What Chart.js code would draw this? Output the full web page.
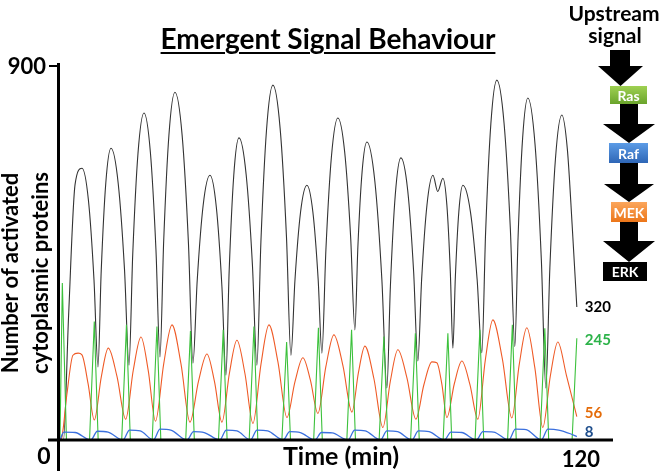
<!DOCTYPE html>
<html><head><meta charset="utf-8">
<script src="https://cdn.jsdelivr.net/npm/chart.js@4"></script>
<style>
html,body{margin:0;padding:0;background:#fff;}
#wrap{position:relative;width:665px;height:474px;overflow:hidden;font-family:Lato,'Open Sans',sans-serif;font-weight:700;}
canvas{position:absolute;left:0;top:0;}
.t{position:absolute;white-space:nowrap;color:#000;font-weight:700;}
svg{position:absolute;left:0;top:0;}
</style></head><body>
<div id="wrap">
<canvas id="c" width="665" height="474"></canvas>
<div class="t" style="left:0;width:656px;top:22px;text-align:center;font-size:28px;line-height:32px;text-decoration:underline;text-decoration-thickness:2px;text-underline-offset:3px;">Emergent Signal Behaviour</div>
<div class="t" style="left:-125px;top:243px;width:300px;height:60px;text-align:center;font-size:22px;line-height:30px;transform:rotate(-90deg);">Number of activated<br>cytoplasmic proteins</div>
<div class="t" style="left:241px;width:200px;top:440px;text-align:center;font-size:25px;line-height:30px;">Time (min)</div>
<div class="t" style="left:559px;width:110px;top:1px;text-align:center;font-size:21px;line-height:24px;">Upstream</div>
<div class="t" style="left:560px;width:110px;top:23px;text-align:center;font-size:21px;line-height:24px;">signal</div>
<svg width="665" height="474" viewBox="0 0 665 474">
<defs>
<linearGradient id="gRas" x1="0" y1="0" x2="0" y2="1"><stop offset="0" stop-color="#9fd152"/><stop offset="1" stop-color="#6aa42c"/></linearGradient>
<linearGradient id="gRaf" x1="0" y1="0" x2="0" y2="1"><stop offset="0" stop-color="#5c9ce6"/><stop offset="1" stop-color="#2e66b6"/></linearGradient>
<linearGradient id="gMek" x1="0" y1="0" x2="0" y2="1"><stop offset="0" stop-color="#fba65c"/><stop offset="1" stop-color="#ec7619"/></linearGradient>
</defs>
<polygon points="610,50 630,50 630,66 643,66 620.5,86 598,66 610,66" fill="#000"/>
<polygon points="620,103 638,103 638,124 655,124 629,143 603,124 620,124" fill="#000"/>
<polygon points="620,163 638,163 638,184 654,184 629,202 604,184 620,184" fill="#000"/>
<polygon points="620,222 638,222 638,241 655,241 629,262 603,241 620,241" fill="#000"/>
<rect x="610" y="86" width="37" height="18" fill="url(#gRas)"/>
<rect x="609" y="143" width="39" height="20" fill="url(#gRaf)"/>
<rect x="611" y="202" width="36" height="20" fill="url(#gMek)"/>
<rect x="603" y="262" width="44" height="19" fill="#000"/>
<g font-family="Lato, 'Open Sans', sans-serif" font-weight="700" font-size="14" fill="#fff" text-anchor="middle" dominant-baseline="central">
<text x="628.5" y="95">Ras</text>
<text x="628.5" y="153">Raf</text>
<text x="629" y="212">MEK</text>
<text x="625" y="271.5">ERK</text>
</g>
</svg>
</div>
<script>
// ---- data (time in min, number of proteins) ----
const xTicks = [0, 120];
const yTicks = [0, 900];

const erkT = [0,0.8,2.0,3.5,5.11,6.59,7.89,8.82,9.57,10.63,11.84,13.51,14.98,16.02,16.89,18.11,19.50,20.98,22.28,23.21,24.08,25.30,26.69,28.36,29.83,30.87,31.86,33.24,34.82,36.30,37.60,38.53,39.28,40.34,41.55,43.22,44.68,45.72,46.65,47.95,49.44,51.11,52.58,53.62,54.55,55.85,57.33,58.72,59.94,60.81,61.74,63.04,64.52,66.10,67.48,68.47,69.16,70.14,71.25,73.11,74.74,75.90,76.71,77.85,79.15,80.73,82.11,83.09,83.97,85.20,86.6,87.7,88.9,89.83,90.64,91.22,91.80,92.61,93.54,95.30,96.85,97.95,98.82,100.04,101.43,103.10,104.57,105.61,106.36,107.42,108.63,110.30,111.77,112.81,113.74,115.04,116.52,117.8,118.9,120];
const erkV = [0,0,300,615,654,578,386,176,407,618,702,618,410,180,447,690,787,693,458,200,480,735,837,733,472,185,384,565,637,560,368,156,407,636,727,639,421,180,477,746,854,750,490,204,384,548,613,548,387,209,458,684,775,693,489,265,464,645,717,622,385,125,369,590,679,601,405,190,387,565,637,598,630,565,401,221,393,550,613,549,387,210,499,761,866,763,507,225,488,727,823,711,432,125,414,677,782,700,520,320];

const mekT = [0,0.4,1.6,3.0,4.2,5.1,6.53,7.96,9.59,11.21,13.23,15.25,17.03,18.80,20.49,22.17,24.09,26.00,28.09,30.17,32.15,34.12,35.86,37.60,39.34,41.08,42.94,44.80,46.66,48.51,50.60,52.69,54.55,56.40,58.14,59.88,61.74,63.60,65.69,67.78,69.29,70.79,72.88,74.97,76.71,78.45,80.54,82.63,84.49,86.35,87.5,88.67,89.83,91.57,93.31,95.17,97.02,98.76,100.50,102.71,104.91,106.65,108.39,110.25,112.10,113.85,115.59,117.6,120];
const mekV = [0,5,110,204,209,205,135,48,152,221,153,50,169,248,167,45,184,277,183,43,141,207,141,43,161,240,160,40,182,277,188,54,140,198,144,64,177,253,179,67,162,226,148,30,142,217,150,50,133,188,186,134,54,136,190,134,50,193,289,195,53,183,270,174,30,154,236,155,56];

const rasT = [0,0.54,1.5,6.86,7.96,8.86,14.33,15.43,16.33,21.41,22.51,23.41,29.19,30.29,31.19,36.80,37.90,38.80,43.93,45.03,45.93,51.52,52.62,53.52,58.90,60.00,60.90,66.60,67.70,68.60,74.10,75.20,76.10,81.41,82.51,83.41,88.96,90.06,90.96,96.38,97.48,98.38,103.93,105.03,105.93,111.47,112.57,113.47,118.9,120];
const rasV = [0,378,0,0,285,0,0,277,0,0,273,0,0,262,0,0,265,0,0,273,0,0,236,0,0,270,0,0,265,0,0,249,0,0,257,0,0,257,0,0,265,0,0,277,0,0,269,0,0,245];

const rafT = [0,0.9,3.5,7.16,8.66,11.16,14.63,16.13,18.63,21.71,23.21,25.71,29.49,30.99,33.49,37.10,38.60,41.10,44.23,45.73,48.23,51.82,53.32,55.82,59.20,60.70,63.20,66.90,68.40,70.90,74.40,75.90,78.40,81.71,83.21,85.71,89.26,90.76,93.26,96.68,98.18,100.68,104.23,105.73,108.23,111.77,113.27,115.77,118.5,120];
const rafV = [0,19,18,0,21,19,0,24,22,0,26,24,0,20,18,0,24,22,0,24,22,0,20,18,0,18,17,0,24,22,0,22,20,0,22,20,0,19,18,0,20,19,0,26,25,0,26,24,15,8];

const seriesColors = ['#333333','#ef5a26','#3b70de','#3cc13c'];
const labelColors = ['#000000','#e46c0a','#1f4e8c','#2db34a'];

function pts(t, v){ return t.map((x,i)=>({x:x, y:v[i]})); }

const endLabelOffsets = {ERK:0, Ras:2, MEK:-4, Raf:-5};

const axesPlugin = {
  id:'axesPlugin',
  afterDatasetsDraw(chart){
    const {ctx, scales:{x, y}} = chart;
    const x0 = x.getPixelForValue(xTicks[0]);
    const y0 = y.getPixelForValue(yTicks[0]);
    const yTop = y.getPixelForValue(yTicks[1]);
    ctx.save();
    ctx.strokeStyle = '#000';
    ctx.lineWidth = 3;
    ctx.beginPath(); ctx.moveTo(x0-1.5, yTop-3); ctx.lineTo(x0-1.5, 471); ctx.stroke();
    ctx.beginPath(); ctx.moveTo(48, y0); ctx.lineTo(x.right, y0); ctx.stroke();
    ctx.lineWidth = 2;
    ctx.beginPath(); ctx.moveTo(49, yTop); ctx.lineTo(x0-1.5, yTop); ctx.stroke();
    ctx.fillStyle = '#000';
    ctx.font = 'bold 22px Lato, "Open Sans", sans-serif';
    ctx.textBaseline = 'middle';
    ctx.textAlign = 'right';
    ctx.fillText(String(yTicks[1]), 46, yTop+1);
    ctx.textAlign = 'center';
    ctx.font = 'bold 23px Lato, "Open Sans", sans-serif';
    ctx.fillText(String(xTicks[0]), 44, 457);
    ctx.font = 'bold 22px Lato, "Open Sans", sans-serif';
    ctx.fillText(String(xTicks[1]), x.getPixelForValue(xTicks[1])+4, 460);
    // end values
    ctx.font = 'bold 15px Lato, "Open Sans", sans-serif';
    ctx.textAlign = 'left';
    chart.data.datasets.forEach((ds, i) => {
      const last = ds.data[ds.data.length-1];
      ctx.fillStyle = ds.labelColor;
      ctx.fillText(String(last.y), x.getPixelForValue(last.x)+8, y.getPixelForValue(last.y) + endLabelOffsets[ds.label]);
    });
    ctx.restore();
  }
};

new Chart(document.getElementById('c'), {
  type: 'line',
  data: {
    datasets: [
      {label:'ERK', data: pts(erkT, erkV), borderColor: seriesColors[0], labelColor: labelColors[0], borderWidth: 1.1, cubicInterpolationMode:'monotone', order: 3},
      {label:'MEK', data: pts(mekT, mekV), borderColor: seriesColors[1], labelColor: labelColors[1], borderWidth: 1.1, cubicInterpolationMode:'monotone', order: 2},
      {label:'Raf', data: pts(rafT, rafV), borderColor: seriesColors[2], labelColor: labelColors[2], borderWidth: 1.3, cubicInterpolationMode:'monotone', order: 0},
      {label:'Ras', data: pts(rasT, rasV), borderColor: seriesColors[3], labelColor: labelColors[3], borderWidth: 1.1, tension: 0, order: 1}
    ]
  },
  options: {
    responsive: false,
    animation: false,
    elements: { point: { radius: 0 } },
    layout: { padding: { left: 60, right: 52, top: 66, bottom: 34 } },
    scales: {
      x: { type: 'linear', min: 0, max: 128.4, display: false },
      y: { type: 'linear', min: 0, max: 900, display: false }
    },
    plugins: { legend: { display: false }, tooltip: { enabled: false }, title: { display: false } }
  },
  plugins: [axesPlugin]
});
</script>
</body></html>
